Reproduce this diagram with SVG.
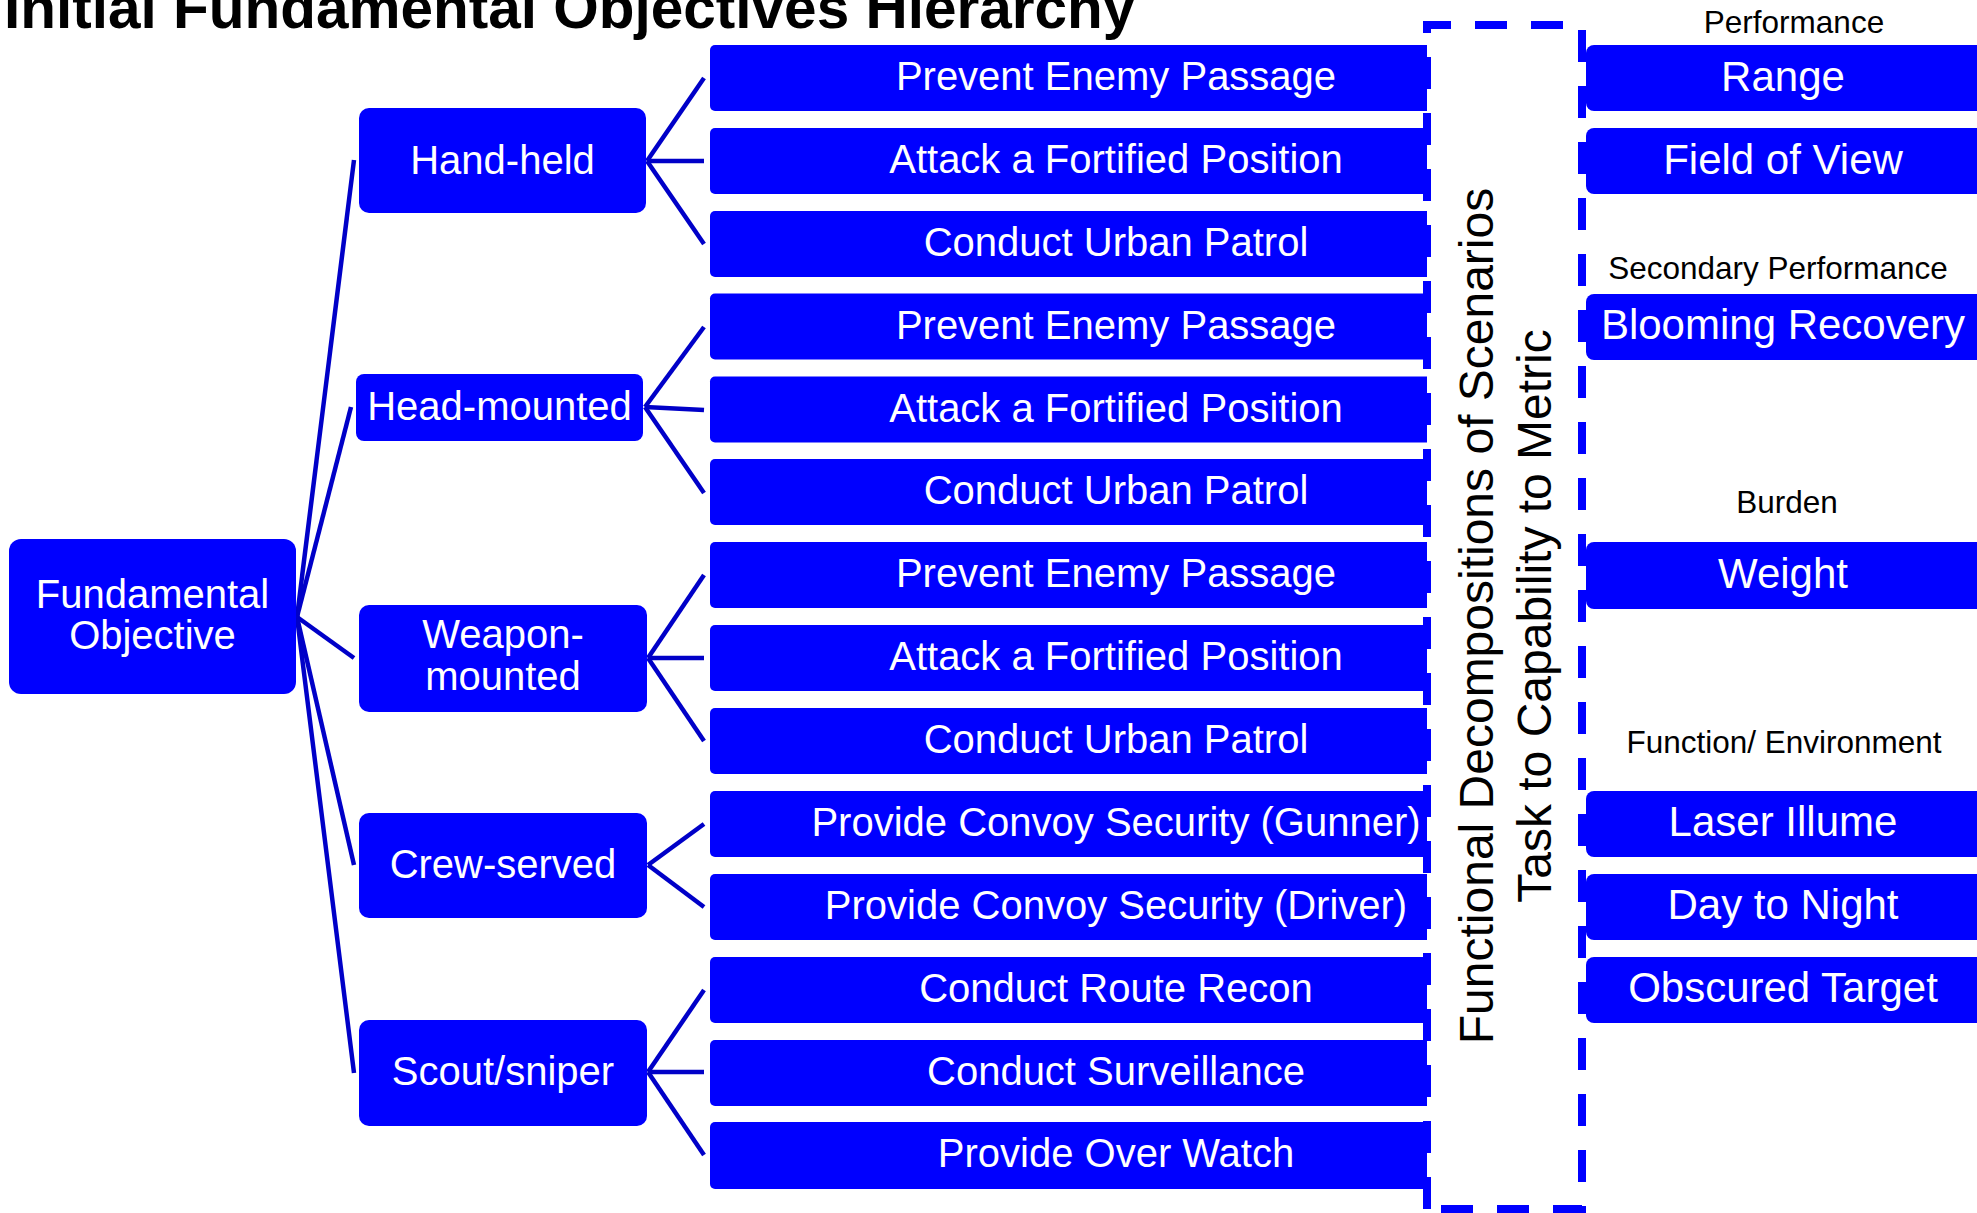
<svg xmlns="http://www.w3.org/2000/svg" width="1977" height="1213" viewBox="0 0 1977 1213">
<style>
.box{fill:#0000FF;}
.t{font-family:"Liberation Sans",Arial,sans-serif;fill:#FFFFFF;text-anchor:middle;font-size:40px;}
.tr{font-family:"Liberation Sans",Arial,sans-serif;fill:#FFFFFF;text-anchor:middle;font-size:42px;}
.lbl{font-family:"Liberation Sans",Arial,sans-serif;fill:#000000;text-anchor:middle;font-size:31.5px;}
.vt{font-family:"Liberation Sans",Arial,sans-serif;fill:#000000;text-anchor:middle;font-size:48px;}
.title{font-family:"Liberation Sans",Arial,sans-serif;fill:#000000;font-size:58.5px;font-weight:bold;}
.c{stroke:#0000C8;stroke-width:4.5;fill:none;}
</style>
<rect width="1977" height="1213" fill="#FFFFFF"/>
<text class="title" x="4" y="28">Initial Fundamental Objectives Hierarchy</text>

<g id="connectors">
<line class="c" x1="297" y1="617" x2="354" y2="160"/>
<line class="c" x1="297" y1="617" x2="351" y2="407"/>
<line class="c" x1="297" y1="617" x2="354" y2="658"/>
<line class="c" x1="297" y1="617" x2="354" y2="865"/>
<line class="c" x1="297" y1="617" x2="354" y2="1073"/>

<line class="c" x1="647" y1="161" x2="704" y2="78"/>
<line class="c" x1="647" y1="161" x2="704" y2="161"/>
<line class="c" x1="647" y1="161" x2="704" y2="244"/>

<line class="c" x1="645" y1="407" x2="704" y2="327"/>
<line class="c" x1="645" y1="407" x2="704" y2="410"/>
<line class="c" x1="645" y1="407" x2="704" y2="493"/>

<line class="c" x1="648" y1="658" x2="704" y2="575"/>
<line class="c" x1="648" y1="658" x2="704" y2="658"/>
<line class="c" x1="648" y1="658" x2="704" y2="741"/>

<line class="c" x1="648" y1="865" x2="704" y2="824"/>
<line class="c" x1="648" y1="865" x2="704" y2="907"/>

<line class="c" x1="648" y1="1072" x2="704" y2="990"/>
<line class="c" x1="648" y1="1072" x2="704" y2="1072"/>
<line class="c" x1="648" y1="1072" x2="704" y2="1155"/>
</g>

<g id="fundamental-objective">
<rect class="box" x="9" y="539" width="287" height="155" rx="12"/>
<text class="t" x="152.5" y="608">Fundamental</text>
<text class="t" x="152.5" y="649">Objective</text>
</g>

<g id="hand-held">
<rect class="box" x="359" y="108" width="287" height="105" rx="10"/>
<text class="t" x="502.5" y="174">Hand-held</text>
</g>
<g id="head-mounted">
<rect class="box" x="356" y="374" width="287" height="67" rx="8"/>
<text class="t" x="499.5" y="420">Head-mounted</text>
</g>
<g id="weapon-mounted">
<rect class="box" x="359" y="605" width="288" height="107" rx="10"/>
<text class="t" x="503" y="648">Weapon-</text>
<text class="t" x="503" y="690">mounted</text>
</g>
<g id="crew-served">
<rect class="box" x="359" y="813" width="288" height="105" rx="10"/>
<text class="t" x="503" y="878">Crew-served</text>
</g>
<g id="scout-sniper">
<rect class="box" x="359" y="1020" width="288" height="106" rx="10"/>
<text class="t" x="503" y="1085">Scout/sniper</text>
</g>

<g id="task-0"><rect class="box" x="710" y="45" width="800" height="66" rx="5"/><text class="t" x="1116" y="90">Prevent Enemy Passage</text></g>
<g id="task-1"><rect class="box" x="710" y="128" width="800" height="66" rx="5"/><text class="t" x="1116" y="173">Attack a Fortified Position</text></g>
<g id="task-2"><rect class="box" x="710" y="211" width="800" height="66" rx="5"/><text class="t" x="1116" y="256">Conduct Urban Patrol</text></g>
<g id="task-3"><rect class="box" x="710" y="293.5" width="800" height="66" rx="5"/><text class="t" x="1116" y="338.5">Prevent Enemy Passage</text></g>
<g id="task-4"><rect class="box" x="710" y="376.5" width="800" height="66" rx="5"/><text class="t" x="1116" y="421.5">Attack a Fortified Position</text></g>
<g id="task-5"><rect class="box" x="710" y="459" width="800" height="66" rx="5"/><text class="t" x="1116" y="504">Conduct Urban Patrol</text></g>
<g id="task-6"><rect class="box" x="710" y="542" width="800" height="66" rx="5"/><text class="t" x="1116" y="587">Prevent Enemy Passage</text></g>
<g id="task-7"><rect class="box" x="710" y="625" width="800" height="66" rx="5"/><text class="t" x="1116" y="670">Attack a Fortified Position</text></g>
<g id="task-8"><rect class="box" x="710" y="708" width="800" height="66" rx="5"/><text class="t" x="1116" y="753">Conduct Urban Patrol</text></g>
<g id="task-9"><rect class="box" x="710" y="791" width="800" height="66" rx="5"/><text class="t" x="1116" y="836">Provide Convoy Security (Gunner)</text></g>
<g id="task-10"><rect class="box" x="710" y="874" width="800" height="66" rx="5"/><text class="t" x="1116" y="919">Provide Convoy Security (Driver)</text></g>
<g id="task-11"><rect class="box" x="710" y="957" width="800" height="66" rx="5"/><text class="t" x="1116" y="1002">Conduct Route Recon</text></g>
<g id="task-12"><rect class="box" x="710" y="1040" width="800" height="66" rx="5"/><text class="t" x="1116" y="1085">Conduct Surveillance</text></g>
<g id="task-13"><rect class="box" x="710" y="1122" width="800" height="67" rx="5"/><text class="t" x="1116" y="1167">Provide Over Watch</text></g>

<g id="decomposition-frame">
<path d="M1427,1209 V25 H1582 V1209 Z" fill="#FFFFFF" stroke="#0000FF" stroke-width="8" stroke-dasharray="32 24" stroke-linejoin="miter"/>
<text class="vt" transform="translate(1493,616) rotate(-90)">Functional Decompositions of Scenarios</text>
<text class="vt" transform="translate(1551,616) rotate(-90)">Task to Capability to Metric</text>
</g>

<g id="metrics">
<text class="lbl" x="1794" y="33">Performance</text>
<text class="lbl" x="1778" y="279">Secondary Performance</text>
<text class="lbl" x="1787" y="513">Burden</text>
<text class="lbl" x="1784" y="753">Function/ Environment</text>
</g>
<g id="range"><rect class="box" x="1586" y="45" width="420" height="66" rx="8"/><text class="tr" x="1783" y="91">Range</text></g>
<g id="field-of-view"><rect class="box" x="1586" y="128" width="420" height="66" rx="8"/><text class="tr" x="1783" y="174">Field of View</text></g>
<g id="blooming-recovery"><rect class="box" x="1586" y="294" width="420" height="66" rx="8"/><text class="tr" x="1783" y="339">Blooming Recovery</text></g>
<g id="weight"><rect class="box" x="1586" y="542" width="420" height="67" rx="8"/><text class="tr" x="1783" y="588">Weight</text></g>
<g id="laser-illume"><rect class="box" x="1586" y="791" width="420" height="66" rx="8"/><text class="tr" x="1783" y="836">Laser Illume</text></g>
<g id="day-to-night"><rect class="box" x="1586" y="874" width="420" height="66" rx="8"/><text class="tr" x="1783" y="919">Day to Night</text></g>
<g id="obscured-target"><rect class="box" x="1586" y="957" width="420" height="66" rx="8"/><text class="tr" x="1783" y="1002">Obscured Target</text></g>
</svg>
